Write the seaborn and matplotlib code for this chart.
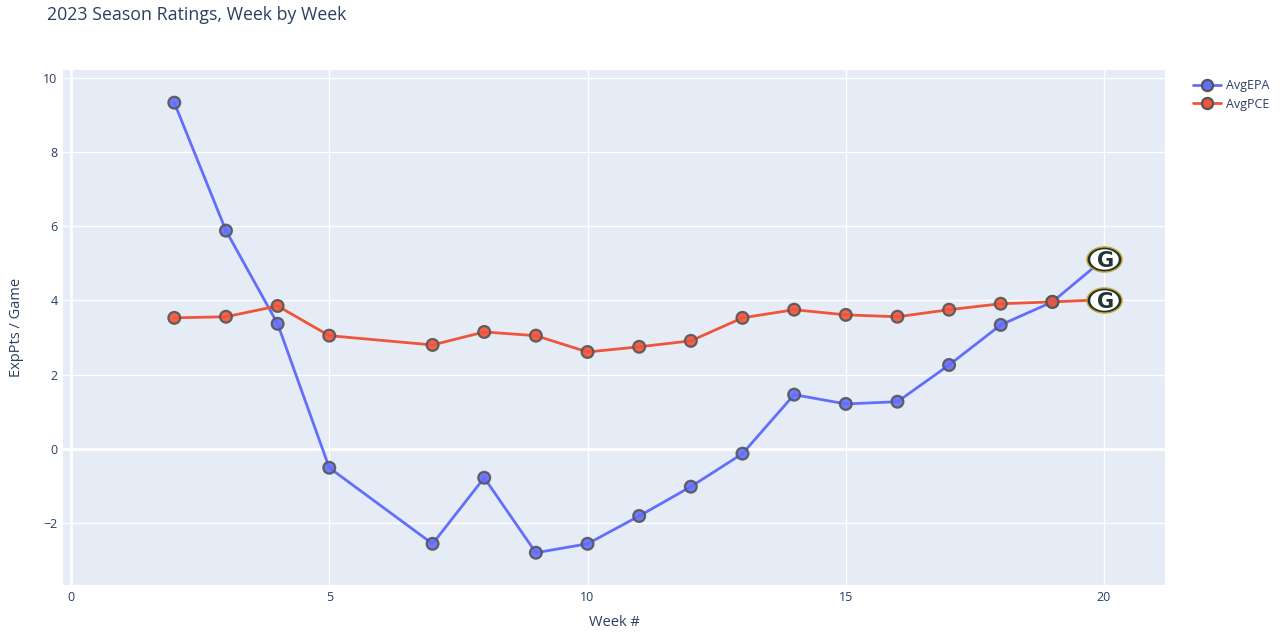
import numpy as np
import pandas as pd
import matplotlib
matplotlib.use("Agg")
import matplotlib.pyplot as plt
import seaborn as sns
from matplotlib.lines import Line2D
from matplotlib.path import Path

weeks = [2, 3, 4, 5, 7, 8, 9, 10, 11, 12, 13, 14, 15, 16, 17, 18, 19, 20]
avg_epa = [9.33, 5.88, 3.37, -0.51, -2.56, -0.78, -2.80, -2.56, -1.81, -1.02,
           -0.13, 1.46, 1.21, 1.27, 2.26, 3.34, 3.96, 5.12]
avg_pce = [3.53, 3.56, 3.85, 3.05, 2.80, 3.15, 3.05, 2.61, 2.75, 2.91,
           3.53, 3.75, 3.61, 3.56, 3.75, 3.91, 3.96, 4.02]
series_names = ["AvgEPA", "AvgPCE"]
colors = ["#636efa", "#EF553B"]
x_ticks = [0, 5, 10, 15, 20]
y_ticks = [-2, 0, 2, 4, 6, 8, 10]

df = pd.concat([
    pd.DataFrame({"Week": weeks, "Value": avg_epa, "Series": "AvgEPA"}),
    pd.DataFrame({"Week": weeks, "Value": avg_pce, "Series": "AvgPCE"}),
])

sns.set_theme(style="darkgrid")
plt.rcParams['font.family'] = ['Open Sans', 'DejaVu Sans']
text_color = "#2a3f5f"

fig = plt.figure(figsize=(12.88, 6.32), dpi=100)
ax = fig.add_axes([63/1288, 1-585/632, (1165-63)/1288, (585-70)/632])
ax.set_facecolor("#E5ECF6")
for s in ax.spines.values():
    s.set_visible(False)
ax.grid(True, color="white", linewidth=1.0)
ax.set_axisbelow(True)
ax.axhline(0, color="white", linewidth=2, zorder=0.5)
ax.axvline(0, color="white", linewidth=2, zorder=0.5)

sns.lineplot(data=df, x="Week", y="Value", hue="Series", palette=colors,
             hue_order=series_names, linewidth=2, ax=ax, legend=False, zorder=2)
pts = df[df["Week"] < 20]
sns.scatterplot(data=pts, x="Week", y="Value", hue="Series", palette=colors,
                hue_order=series_names, s=72, edgecolor="#555555", linewidth=1.6,
                alpha=0.9, ax=ax, legend=False, zorder=3)

# Logo-like markers at the last week
theta = np.linspace(0, 2*np.pi, 60)
ell = Path(np.column_stack([1.4*np.cos(theta), np.sin(theta)]), closed=True)
last = df[df["Week"] == 20]
ax.scatter(last["Week"], last["Value"], marker=ell, s=640, c="#203731",
           edgecolors="#C9A43A", linewidths=1.0, zorder=4)
ax.scatter(last["Week"], last["Value"], marker=ell, s=420, c="white",
           linewidths=0, zorder=5)
for v in last["Value"]:
    ax.text(20.03, v, "G", ha="center", va="center_baseline", color="#203731",
            fontsize=15, fontweight="bold", family="DejaVu Sans", zorder=6)

ax.set_xlim(-0.155, 21.18)
ax.set_ylim(-3.67, 10.21)
ax.set_xticks(x_ticks)
ax.set_yticks(y_ticks)
ax.tick_params(colors=text_color, labelsize=9, length=0, pad=4)
ax.set_xlabel("Week #", color=text_color, fontsize=10.5, labelpad=8)
ax.set_ylabel("ExpPts / Game", color=text_color, fontsize=10.5, labelpad=14)

fig.text(47/1288, 1-15/632, "2023 Season Ratings, Week by Week", color=text_color,
         fontsize=12.8, ha="left", va="center")

handles = [Line2D([0], [0], color=c, linewidth=2, marker="o", markersize=8,
                  markerfacecolor=c, markeredgecolor="#555555", markeredgewidth=1.6)
           for c in colors]
leg = fig.legend(handles, series_names, loc="upper left",
                 bbox_to_anchor=(1188/1288, 1-74/632), frameon=False,
                 fontsize=9, handlelength=2.2, handletextpad=0.4,
                 labelspacing=0.45, borderaxespad=0)
for t in leg.get_texts():
    t.set_color(text_color)

fig.savefig("out.png", dpi=100, facecolor="white")
